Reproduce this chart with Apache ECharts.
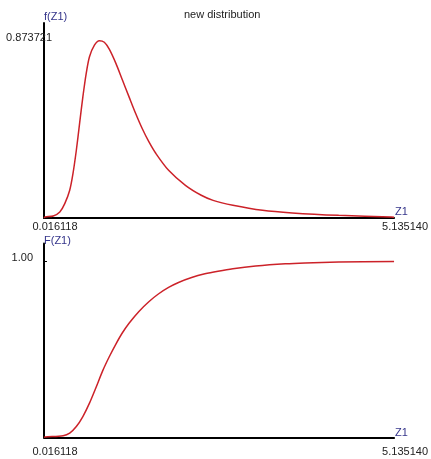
<!DOCTYPE html>
<html>
<head>
<meta charset="utf-8">
<script src="https://cdn.jsdelivr.net/npm/echarts@6/dist/echarts.min.js"></script>
<style>
html,body{margin:0;padding:0;background:#fff;}
#chart{width:431px;height:459px;}
</style>
</head>
<body>
<div id="chart"></div>
<script>
const titleText = 'new distribution';
const xMin = 0.016118;
const xMax = 5.135140;
const pdfMax = 0.873721;
const cdfTickLabel = '1.00';

const pdfX = [0.016118, 0.0306, 0.1506, 0.2475, 0.3198, 0.3921, 0.4398, 0.4890, 0.5367, 0.5844, 0.6336, 0.6813, 0.7536, 0.8259, 0.8982, 0.9705, 1.0674, 1.1629, 1.2598, 1.3566, 1.4521, 1.5490, 1.6502, 1.8382, 2.0841, 2.3154, 2.4890, 2.7782, 3.2120, 3.6459, 4.3255, 5.0920, 5.135140];
const pdfY = [0, 0.005, 0.010, 0.030, 0.071, 0.137, 0.219, 0.334, 0.466, 0.597, 0.713, 0.795, 0.852, 0.873721, 0.866, 0.832, 0.762, 0.680, 0.597, 0.515, 0.441, 0.376, 0.319, 0.235, 0.161, 0.112, 0.087, 0.063, 0.038, 0.025, 0.013, 0.005, 0.004];

const cdfX = [0.016118, 0.0306, 0.2952, 0.3921, 0.4890, 0.5844, 0.6813, 0.7782, 0.8737, 0.9705, 1.0674, 1.1629, 1.2598, 1.4044, 1.5490, 1.6936, 1.8382, 1.9828, 2.1751, 2.3689, 2.5612, 2.7782, 3.1108, 3.5456, 3.8340, 4.3255, 5.135140];
const cdfY = [0, 0.003, 0.010, 0.025, 0.062, 0.119, 0.195, 0.285, 0.378, 0.458, 0.530, 0.594, 0.648, 0.715, 0.770, 0.815, 0.851, 0.879, 0.907, 0.928, 0.943, 0.957, 0.972, 0.985, 0.990, 0.995, 0.998];

const pdfData = pdfX.map((x, i) => [x, pdfY[i]]);
const cdfData = cdfX.map((x, i) => [x, cdfY[i]]);

const FONT = 'Liberation Sans, Arial, sans-serif';
const nameColor = '#34348a';
const lineColor = '#cc2229';

function xAxisCfg(gridIndex, labelMargin, nameLineHeight) {
  return {
    type: 'value', gridIndex: gridIndex, min: xMin, max: xMax,
    splitLine: {show: false},
    axisLine: {show: true, onZero: false, lineStyle: {color: '#000', width: 2}},
    axisTick: {show: false},
    axisLabel: {
      customValues: [xMin, xMax], showMinLabel: true, showMaxLabel: true,
      formatter: v => v.toFixed(6), color: '#222', fontSize: 11, fontFamily: FONT,
      margin: labelMargin, padding: [0, 0, 0, 22], hideOverlap: false
    },
    name: 'Z1', nameLocation: 'end', nameGap: 1, nameMoveOverlap: false,
    nameTextStyle: {color: nameColor, fontSize: 11, fontFamily: FONT, align: 'left', verticalAlign: 'bottom', lineHeight: nameLineHeight}
  };
}

const option = {
  animation: false,
  backgroundColor: '#fff',
  title: {
    text: titleText, left: 184, top: 9, padding: 0,
    textStyle: {fontSize: 11, fontWeight: 'normal', color: '#222', fontFamily: FONT}
  },
  grid: [
    {left: 44, top: 23, width: 354, height: 195},
    {left: 44, top: 243.5, width: 354, height: 194}
  ],
  xAxis: [
    xAxisCfg(0, 3.5, 13),
    xAxisCfg(1, 8.5, 9)
  ],
  yAxis: [
    {
      type: 'value', gridIndex: 0, min: 0, max: pdfMax * 1.1,
      splitLine: {show: false},
      axisLine: {show: true, lineStyle: {color: '#000', width: 2}},
      axisTick: {show: false},
      axisLabel: {
        customValues: [pdfMax], formatter: v => v.toFixed(6),
        color: '#222', fontSize: 11, fontFamily: FONT, margin: -8,
        verticalAlign: 'bottom', lineHeight: 6
      },
      name: 'f(Z1)', nameLocation: 'end', nameGap: 1, nameMoveOverlap: false,
      nameTextStyle: {color: nameColor, fontSize: 11, fontFamily: FONT, align: 'left', verticalAlign: 'bottom'}
    },
    {
      type: 'value', gridIndex: 1, min: 0, max: 1.1,
      splitLine: {show: false},
      axisLine: {show: true, lineStyle: {color: '#000', width: 2}},
      axisTick: {show: true, customValues: [1], inside: true, length: 3, lineStyle: {color: '#000', width: 1}},
      axisLabel: {
        customValues: [1], formatter: () => cdfTickLabel,
        color: '#222', fontSize: 11, fontFamily: FONT, margin: 11,
        verticalAlign: 'bottom', lineHeight: 6
      },
      name: 'F(Z1)', nameLocation: 'end', nameGap: -3, nameMoveOverlap: false,
      nameTextStyle: {color: nameColor, fontSize: 11, fontFamily: FONT, align: 'left', verticalAlign: 'bottom'}
    }
  ],
  series: [
    {
      type: 'line', xAxisIndex: 0, yAxisIndex: 0, data: pdfData,
      showSymbol: false, smooth: 0.3,
      lineStyle: {color: lineColor, width: 1.5}
    },
    {
      type: 'line', xAxisIndex: 1, yAxisIndex: 1, data: cdfData,
      showSymbol: false, smooth: 0.3,
      lineStyle: {color: lineColor, width: 1.5}
    }
  ]
};

const chart = echarts.init(document.getElementById('chart'), null, {renderer: 'canvas'});
chart.setOption(option);
</script>
</body>
</html>
